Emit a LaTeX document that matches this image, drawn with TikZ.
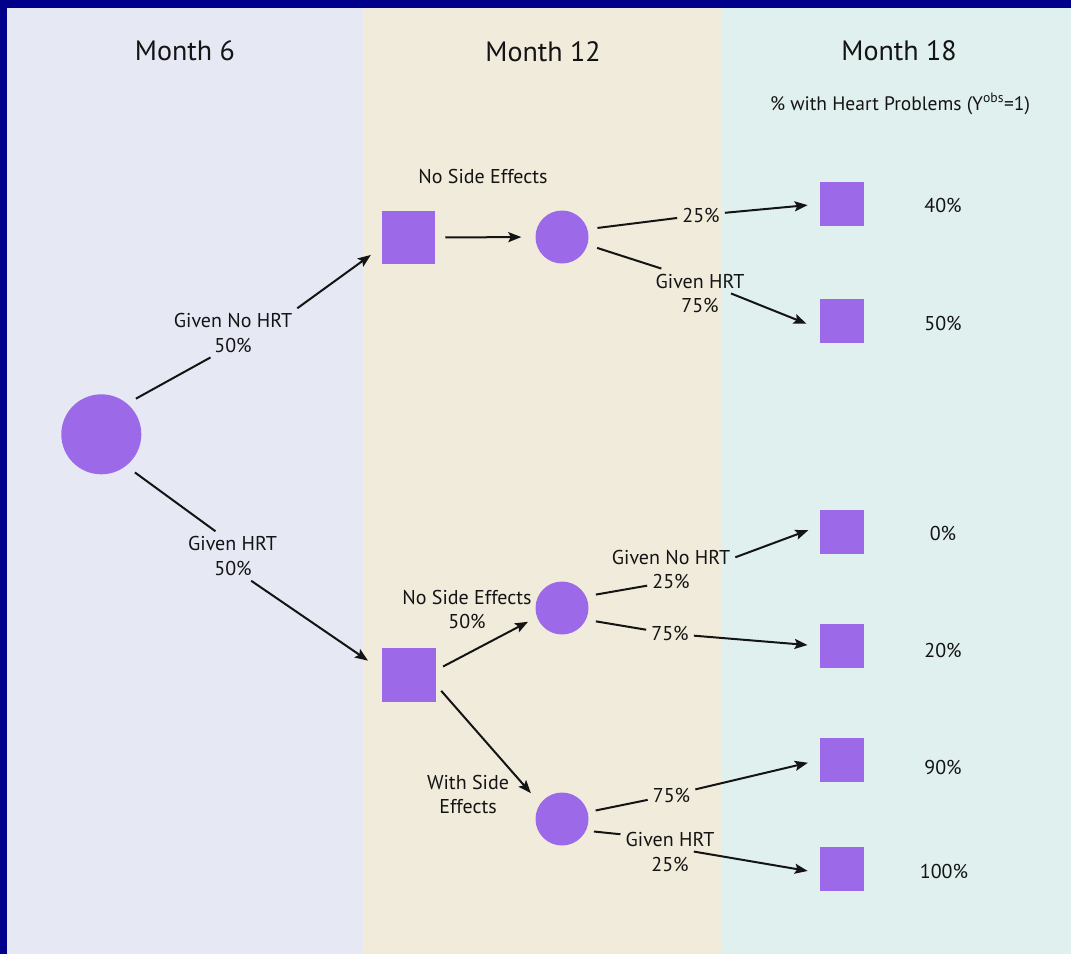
\documentclass[tikz,border=0pt]{standalone}
\usepackage{fontspec}
\setmainfont{PT Sans}
\usetikzlibrary{arrows.meta}
\definecolor{navy}{RGB}{0,0,139}
\definecolor{colA}{RGB}{230,232,244}
\definecolor{colB}{RGB}{241,235,220}
\definecolor{colC}{RGB}{224,240,238}
\definecolor{purp}{RGB}{156,106,232}
\definecolor{ink}{RGB}{20,20,20}
\begin{document}
\begin{tikzpicture}[x=1pt,y=-1pt,
  every node/.style={text=ink},
  sqbig/.style={rectangle,fill=purp,minimum size=53.5pt,inner sep=0pt},
  sqend/.style={rectangle,fill=purp,minimum size=44.5pt,inner sep=0pt},
  circ/.style={circle,fill=purp,minimum size=53pt,inner sep=0pt},
  bigcirc/.style={circle,fill=purp,minimum size=80pt,inner sep=0pt},
  lbl/.style={font=\fontsize{20}{24}\selectfont,inner sep=5pt},
  pct/.style={font=\fontsize{20}{24}\selectfont,inner sep=2pt},
  ttl/.style={font=\fontsize{28}{32}\selectfont},
  conn/.style={line width=2pt,draw=ink},
  arr/.style={conn,-{Stealth[length=13pt,width=10pt,inset=2.5pt]}}
]
\useasboundingbox (0,0) rectangle (1071,954);
% backgrounds
\fill[colA] (0,0) rectangle (363,954);
\fill[colB] (363,0) rectangle (722,954);
\fill[colC] (722,0) rectangle (1071,954);
\fill[navy] (0,0) rectangle (1071,7.5);
\fill[navy] (0,0) rectangle (7,954);
% titles
\node[ttl] (t6) at (185,51) {Month 6};
\node[ttl] (t12) at (543,52) {Month 12};
\node[ttl] (t18) at (899,51) {Month 18};
\node[font=\fontsize{19.5}{22}\selectfont] (sub) at (900,104) {\% with Heart Problems (Y\textsuperscript{obs}=1)};
% decision / chance nodes
\node[bigcirc] (c0) at (101.3,434.3) {};
\node[sqbig] (s1) at (408.3,237.5) {};
\node[circ] (c1) at (562,237) {};
\node[sqbig] (s2) at (409,675) {};
\node[circ] (c2) at (562,608) {};
\node[circ] (c3) at (562,819) {};
\node[sqend] (e1) at (842,204) {};
\node[sqend] (e2) at (842,320.8) {};
\node[sqend] (e3) at (842,532) {};
\node[sqend] (e4) at (842,646) {};
\node[sqend] (e5) at (842,760) {};
\node[sqend] (e6) at (842,869) {};
% outcome percentages
\node[pct] (p1) at (943,205) {40\%};
\node[pct] (p2) at (943,323.3) {50\%};
\node[pct] (p3) at (943,533) {0\%};
\node[pct] (p4) at (943,650) {20\%};
\node[pct] (p5) at (943,767) {90\%};
\node[pct] (p6) at (944,871) {100\%};
% free labels
\node[lbl] (nse) at (483,176.7) {No Side Effects};
\node[lbl,align=center] (nse2) at (467,609) {No Side Effects\\50\%};
\node[lbl,align=center] (wse) at (468,794) {With Side\\Effects};
% connector labels
\node[lbl] (L1a) at (233,320.7) {Given No HRT};
\node[lbl] (L1b) at (233,345) {50\%};
\node[lbl] (L2a) at (232.5,543.7) {Given HRT};
\node[lbl] (L2b) at (233,568.3) {50\%};
\node[lbl] (L3) at (701,215) {25\%};
\node[lbl] (L4a) at (700,281) {Given HRT};
\node[lbl] (L4b) at (700,305) {75\%};
\node[lbl] (L5a) at (671,557.3) {Given No HRT};
\node[lbl] (L5b) at (671,581.5) {25\%};
\node[lbl] (L6) at (670,633.7) {75\%};
\node[lbl] (L7) at (671.5,795) {75\%};
\node[lbl] (L8a) at (670,839.3) {Given HRT};
\node[lbl] (L8b) at (670,864) {25\%};
% connectors
\draw[conn,shorten <=10pt] (c0.50) -- (L1b);
\draw[arr,shorten >=13pt] (L1a.north east) -- (s1.200);
\draw[conn,shorten <=11pt] (c0.-52) -- (L2a);
\draw[arr,shorten >=17pt] (L2b) -- (s2.170);
\draw[arr,shorten <=10pt,shorten >=14pt] (s1.east) -- (c1.west);
\draw[conn,shorten <=10pt] (c1.17) -- (L3);
\draw[arr,shorten >=12pt] (L3) -- (e1.west);
\draw[conn,shorten <=10pt] (c1.-17) -- (L4a);
\draw[arr,shorten >=14pt] (L4a) -- (e2.200);
\draw[arr,shorten <=8pt,shorten >=10pt] (s2.10) -- (c2.200);
\draw[arr,shorten <=8pt,shorten >=14pt] (s2.-20) -- (c3.145);
\draw[conn,shorten <=10pt] (c2.26) -- (L5b);
\draw[arr,shorten >=12pt] (L5a.east) -- (e3.165);
\draw[conn,shorten <=10pt] (c2.-26) -- (L6);
\draw[arr,shorten >=12pt] (L6) -- (e4.west);
\draw[conn,shorten <=8pt] (c3.15) -- (L7);
\draw[arr,shorten >=12pt] (L7) -- (e5.west);
\draw[conn,shorten <=8pt] (c3.-26) -- (L8a);
\draw[arr,shorten >=12pt] (L8b.north east) -- (e6.190);
\end{tikzpicture}
\end{document}
